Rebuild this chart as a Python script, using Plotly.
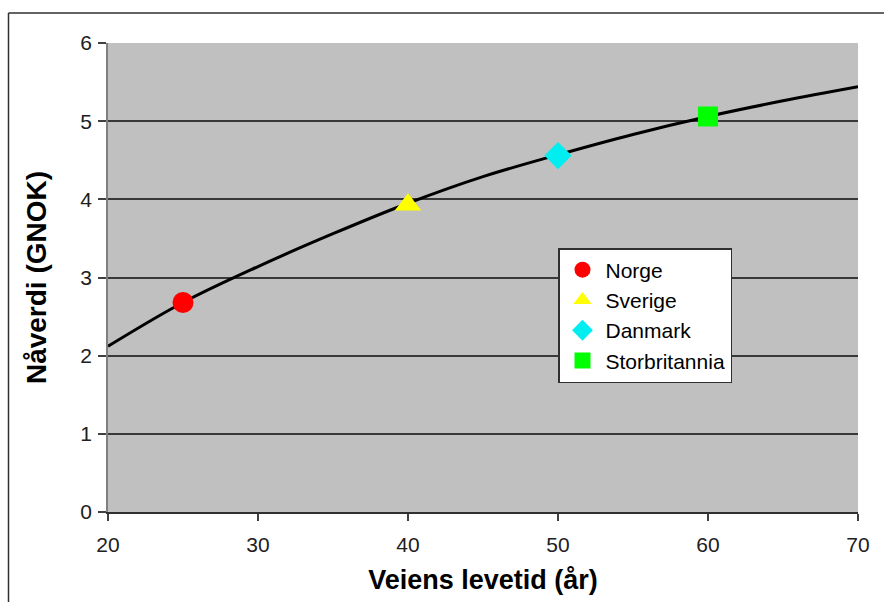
import plotly.graph_objects as go

# Curve
curve_x = [20, 25, 30, 35, 40, 45, 50, 55, 60, 65, 70]
curve_y = [2.12, 2.68, 3.14, 3.56, 3.95, 4.29, 4.57, 4.83, 5.06, 5.26, 5.44]

# Country markers
countries = ["Norge", "Sverige", "Danmark", "Storbritannia"]
country_x = [25, 40, 50, 60]
country_y = [2.68, 3.93, 4.56, 5.06]
symbols = ["circle", "triangle-up", "diamond", "square"]
colors = ["#FF0000", "#FFFF00", "#00EEF0", "#00FF00"]
sizes = [21, 23, 21, 20]

x_ticks = [20, 30, 40, 50, 60, 70]
y_ticks = [0, 1, 2, 3, 4, 5, 6]

FONT = "Liberation Sans, Arial, sans-serif"

fig = go.Figure()
fig.add_trace(go.Scatter(x=curve_x, y=curve_y, mode="lines",
                         line=dict(color="black", width=3, shape="spline"),
                         showlegend=False, hoverinfo="skip"))
for name, x, y, s, c, sz in zip(countries, country_x, country_y, symbols, colors, sizes):
    fig.add_trace(go.Scatter(x=[x], y=[y], mode="markers", name=name,
                             marker=dict(symbol=s, color=c, size=sz, line=dict(width=0))))

# plot area: left 108, right 858, top 43, bottom 512 (px)
L, R, T, B = 108, 26, 43, 90
W, H = 884, 602
pw, ph = W - L - R, H - T - B

def px_to_paper_x(px):
    return (px - L) / pw

def px_to_paper_y(py):
    return (H - B - py) / ph

fig.add_shape(type="line", xref="paper", yref="paper",
              x0=px_to_paper_x(8.5), x1=px_to_paper_x(8.5),
              y0=px_to_paper_y(13), y1=px_to_paper_y(640),
              line=dict(color="#303030", width=1.5))
fig.add_shape(type="line", xref="paper", yref="paper",
              x0=px_to_paper_x(8.5), x1=px_to_paper_x(920),
              y0=px_to_paper_y(13), y1=px_to_paper_y(13),
              line=dict(color="#303030", width=1.5))

fig.update_layout(
    width=W, height=H,
    margin=dict(l=L, r=R, t=T, b=B),
    paper_bgcolor="white",
    plot_bgcolor="#C0C0C0",
    font=dict(family=FONT, color="black"),
    xaxis=dict(range=[20, 70], tickvals=x_ticks, ticks="outside", ticklen=7,
               tickcolor="#404040", tickwidth=1.5, ticklabelstandoff=6,
               showgrid=False, zeroline=False, showline=True, linecolor="#303030",
               linewidth=2, tickfont=dict(size=21, color="#202020"),
               title=dict(text="<b>Veiens levetid (år)</b>", font=dict(size=27), standoff=15)),
    yaxis=dict(range=[0, 6], tickvals=y_ticks, ticks="outside", ticklen=8,
               tickcolor="#404040", tickwidth=1.5, ticklabelstandoff=2,
               showgrid=True, gridcolor="#383838", gridwidth=1.5, zeroline=False,
               showline=True, linecolor="#808080", linewidth=1.5,
               tickfont=dict(size=21, color="#202020"),
               title=dict(text="<b>Nåverdi (GNOK)</b>", font=dict(size=28), standoff=26)),
    legend=dict(x=px_to_paper_x(558), y=px_to_paper_y(248), xanchor="left", yanchor="top",
                bgcolor="white", bordercolor="#303030", borderwidth=1.5,
                font=dict(size=21, color="black"), tracegroupgap=0,
                itemsizing="trace", itemwidth=36),
    showlegend=True,
)

fig.write_html("out.html")
